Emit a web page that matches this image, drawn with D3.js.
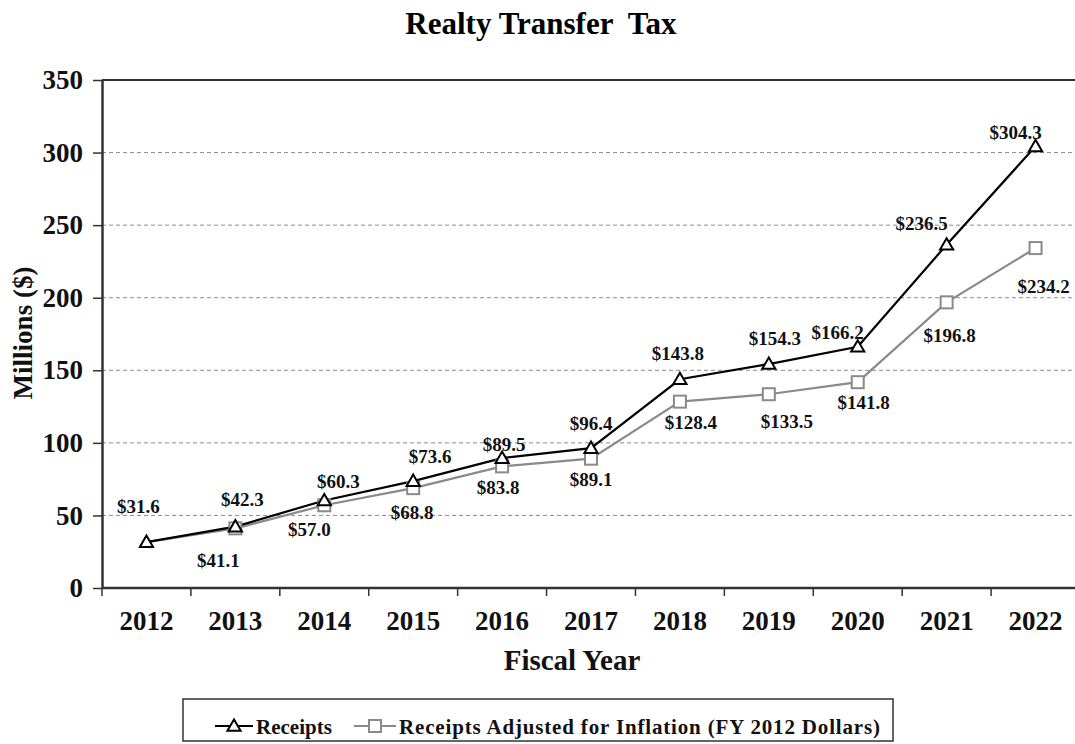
<!DOCTYPE html>
<html>
<head>
<meta charset="utf-8">
<script src="https://cdn.jsdelivr.net/npm/d3@7"></script>
<style>
  html, body { margin: 0; padding: 0; background: #fff; }
  svg { display: block; font-family: "Liberation Serif", "Times New Roman", serif; font-weight: bold; }
  .title { white-space: pre; }
</style>
</head>
<body>
<svg id="chart" width="1075" height="744"></svg>
<script>
// Fiscal years and receipts (millions of dollars)
const years = ["2012","2013","2014","2015","2016","2017","2018","2019","2020","2021","2022"];
const receipts = [31.6, 42.3, 60.3, 73.6, 89.5, 96.4, 143.8, 154.3, 166.2, 236.5, 304.3];
const adjusted = [31.6, 41.1, 57.0, 68.8, 83.8, 89.1, 128.4, 133.5, 141.8, 196.8, 234.2];
const yTicks = [0, 50, 100, 150, 200, 250, 300, 350];

// Label nudges relative to each point (dx, dy of text centre)
const receiptsLabelOffset = [[-8,-36],[7,-27],[14,-19],[17,-25],[2,-14],[0,-25],[-2,-26],[6,-26],[-20,-14],[-25,-21],[-20,-14]];
const adjustedLabelOffset = [null,[-17,32],[-15,24],[-1,24],[-4,21],[0,21],[11,21],[18,27],[6,20],[3,33],[8,38]];

const svg = d3.select("#chart");
const plotLeft = 102, plotRight = 1080, plotTop = 80, plotBottom = 588;

const x = d3.scaleBand().domain(years).range([plotLeft, plotRight]);
const y = d3.scaleLinear().domain([0, 350]).range([plotBottom, plotTop]);
const cx = d => x(d) + x.bandwidth() / 2;

// Title
svg.append("text")
  .attr("class", "title")
  .attr("x", 541).attr("y", 34)
  .attr("text-anchor", "middle")
  .attr("font-size", 31)
  .text("Realty Transfer  Tax");

// Dashed gridlines
svg.append("g").selectAll("line")
  .data(yTicks.filter(t => t > 0 && t < 350))
  .join("line")
  .attr("x1", plotLeft).attr("x2", plotRight)
  .attr("y1", d => y(d)).attr("y2", d => y(d))
  .attr("stroke", "#8c8c8c").attr("stroke-width", 1)
  .attr("stroke-dasharray", "4,3");

// Top frame line
svg.append("line")
  .attr("x1", plotLeft).attr("x2", plotRight)
  .attr("y1", y(350)).attr("y2", y(350))
  .attr("stroke", "#333").attr("stroke-width", 2);

// Y axis
const yAxis = d3.axisLeft(y).tickValues(yTicks).tickSize(9).tickPadding(10).tickSizeOuter(0);
const gy = svg.append("g").attr("transform", `translate(${plotLeft},0)`).call(yAxis);
gy.select(".domain").attr("stroke", "#333").attr("stroke-width", 2.5);
gy.selectAll(".tick line").attr("stroke", "#333").attr("stroke-width", 1.5);
gy.selectAll(".tick text")
  .attr("font-size", 27).attr("font-family", "Liberation Serif").attr("font-weight", "bold").attr("fill", "#111");

// X axis with ticks at band boundaries
const gx = svg.append("g");
gx.append("line")
  .attr("x1", plotLeft).attr("x2", plotRight)
  .attr("y1", plotBottom).attr("y2", plotBottom)
  .attr("stroke", "#333").attr("stroke-width", 2.5);
gx.selectAll("line.xt")
  .data(years)
  .join("line").attr("class", "xt")
  .attr("x1", d => x(d)).attr("x2", d => x(d))
  .attr("y1", plotBottom).attr("y2", plotBottom + 8)
  .attr("stroke", "#333").attr("stroke-width", 1.5);
gx.selectAll("text")
  .data(years)
  .join("text")
  .attr("x", d => cx(d)).attr("y", 630)
  .attr("text-anchor", "middle")
  .attr("font-size", 27).attr("fill", "#111")
  .text(d => d);

// Axis titles
svg.append("text")
  .attr("x", 572).attr("y", 670)
  .attr("text-anchor", "middle")
  .attr("font-size", 29).attr("fill", "#111")
  .text("Fiscal Year");
svg.append("text")
  .attr("transform", "translate(32,333) rotate(-90)")
  .attr("text-anchor", "middle")
  .attr("font-size", 27).attr("fill", "#111")
  .text("Millions ($)");

// Lines
const line = d3.line().x((d, i) => cx(years[i])).y(d => y(d));
svg.append("path").datum(adjusted)
  .attr("d", line).attr("fill", "none")
  .attr("stroke", "#8a8a8a").attr("stroke-width", 2.2);
svg.append("path").datum(receipts)
  .attr("d", line).attr("fill", "none")
  .attr("stroke", "#000").attr("stroke-width", 2.2);

// Square markers (adjusted series)
svg.append("g").selectAll("rect")
  .data(adjusted.map((v, i) => ({ v, i })).filter(d => d.i > 0))
  .join("rect")
  .attr("x", d => cx(years[d.i]) - 6).attr("y", d => y(d.v) - 6)
  .attr("width", 12).attr("height", 12)
  .attr("fill", "#fff").attr("stroke", "#8a8a8a").attr("stroke-width", 2);

// Triangle markers (receipts)
const tri = d3.symbol().type(d3.symbolTriangle).size(75);
svg.append("g").selectAll("path")
  .data(receipts)
  .join("path")
  .attr("d", tri)
  .attr("transform", (d, i) => `translate(${cx(years[i])},${y(d) + 1})`)
  .attr("fill", "#fff").attr("stroke", "#000").attr("stroke-width", 2);

// Value labels
const fmt = v => "$" + v.toFixed(1);
svg.append("g").selectAll("text")
  .data(receipts)
  .join("text")
  .attr("x", (d, i) => cx(years[i]) + receiptsLabelOffset[i][0])
  .attr("y", (d, i) => y(d) + receiptsLabelOffset[i][1])
  .attr("dy", "0.35em")
  .attr("text-anchor", "middle")
  .attr("font-size", 19).attr("fill", "#111")
  .text(fmt);
svg.append("g").selectAll("text")
  .data(adjusted.map((v, i) => ({ v, i })).filter(d => adjustedLabelOffset[d.i]))
  .join("text")
  .attr("x", d => cx(years[d.i]) + adjustedLabelOffset[d.i][0])
  .attr("y", d => y(d.v) + adjustedLabelOffset[d.i][1])
  .attr("dy", "0.35em")
  .attr("text-anchor", "middle")
  .attr("font-size", 19).attr("fill", "#111")
  .text(d => fmt(d.v));

// Legend
const lg = svg.append("g");
lg.append("rect")
  .attr("x", 183).attr("y", 699).attr("width", 710).attr("height", 42)
  .attr("fill", "#fff").attr("stroke", "#333").attr("stroke-width", 1.5);
lg.append("line").attr("x1", 215).attr("x2", 253).attr("y1", 726).attr("y2", 726)
  .attr("stroke", "#000").attr("stroke-width", 2.2);
lg.append("path").attr("d", tri).attr("transform", "translate(234,727)")
  .attr("fill", "#fff").attr("stroke", "#000").attr("stroke-width", 2);
lg.append("text").attr("x", 256).attr("y", 734).attr("font-size", 21).attr("fill", "#111").text("Receipts");
lg.append("line").attr("x1", 354).attr("x2", 396).attr("y1", 726).attr("y2", 726)
  .attr("stroke", "#8a8a8a").attr("stroke-width", 2.2);
lg.append("rect").attr("x", 369).attr("y", 720).attr("width", 12).attr("height", 12)
  .attr("fill", "#fff").attr("stroke", "#8a8a8a").attr("stroke-width", 2);
lg.append("text").attr("x", 399).attr("y", 734).attr("font-size", 21).attr("fill", "#111")
  .attr("textLength", 481)
  .text("Receipts Adjusted for Inflation (FY 2012 Dollars)");
</script>
</body>
</html>
